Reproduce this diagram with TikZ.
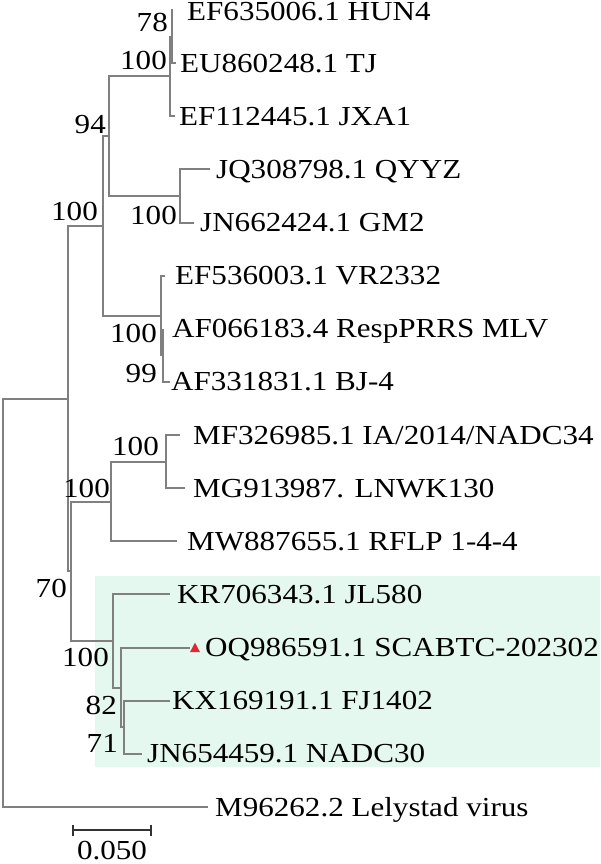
\documentclass[tikz,border=0pt]{standalone}
\usepackage{fontspec}
\setmainfont[FakeStretch=1.13]{Liberation Serif}
\usetikzlibrary{arrows.meta}
\definecolor{branchgray}{RGB}{128,128,128}
\definecolor{cladegreen}{RGB}{228,248,240}
\definecolor{markred}{RGB}{224,40,52}
\tikzset{branch/.style={draw=branchgray, line width=2pt},
    taxon/.style={anchor=west, inner sep=0pt, text height=18pt, text depth=0pt},
    boot/.style={anchor=base east, inner sep=0pt},
    scalebar/.style={draw=black!80, line width=1.8pt, {Bar[width=11pt]}-{Bar[width=11pt]}},
    }
\begin{document}
\begin{tikzpicture}[x=1pt, y=-1pt, font=\fontsize{27.5}{32}\selectfont]
\useasboundingbox (0,0) rectangle (600,864);
\fill[cladegreen] (95,576) rectangle (600,767);%NADC30-like clade
% inner nodes
\coordinate (root) at (3,602.8);
\coordinate (q100) at (68,398.6);
\coordinate (c100) at (103,225.9);
\coordinate (a94) at (109,136.2);
\coordinate (a100) at (170,76.4);
\coordinate (a78) at (172,36.6);
\coordinate (b100) at (180,196);
\coordinate (d100) at (161,315.6);
\coordinate (f99) at (163,355.4);
\coordinate (p70) at (71,571.2);
\coordinate (h100) at (111,501.5);
\coordinate (g100) at (166,461.6);
\coordinate (n100) at (113,641);
\coordinate (m82) at (121,687.5);
\coordinate (k71) at (124,727.3);
% branch tips
\coordinate (t0) at (173,10);
\coordinate (t1) at (176,63.1);
\coordinate (t2) at (175,116.3);
\coordinate (t3) at (210,169.4);
\coordinate (t4) at (194,222.5);
\coordinate (t5) at (165,275.7);
\coordinate (t6) at (163,328.8);
\coordinate (t7) at (170,381.9);
\coordinate (t8) at (180,435);
\coordinate (t9) at (185,488.2);
\coordinate (t10) at (177,541.3);
\coordinate (t11) at (170,594.4);
\coordinate (t12) at (190,647.6);
\coordinate (t13) at (170,700.7);
\coordinate (t14) at (142,753.8);
\coordinate (t15) at (208,807);
% taxa
\node[taxon] (l0) at (187,12) {EF635006.1 HUN4};
\node[taxon] (l1) at (180,63.1) {EU860248.1 TJ};
\node[taxon] (l2) at (179,116.3) {EF112445.1 JXA1};
\node[taxon] (l3) at (216,169.4) {JQ308798.1 QYYZ};
\node[taxon] (l4) at (200,222.5) {JN662424.1 GM2};
\node[taxon] (l5) at (175,275.7) {EF536003.1 VR2332};
\node[taxon] (l6) at (172,328.8) {AF066183.4 RespPRRS MLV};
\node[taxon] (l7) at (171,381.9) {AF331831.1 BJ-4};
\node[taxon] (l8) at (193,435) {MF326985.1 IA/2014/NADC34};
\node[taxon] (l9) at (193,488.2) {MG913987. LNWK130};
\node[taxon] (l10) at (187,541.3) {MW887655.1 RFLP 1-4-4};
\node[taxon] (l11) at (177,594.4) {KR706343.1 JL580};
\node[taxon] (l12) at (205,647.6) {OQ986591.1 SCABTC-202302};
\node[taxon] (l13) at (172,700.7) {KX169191.1 FJ1402};
\node[taxon] (l14) at (147,753.8) {JN654459.1 NADC30};
\node[taxon] (l15) at (215,807) {M96262.2 Lelystad virus};
% branches
\draw[branch] (a78) |- (t0) (a78) |- (t1);%HUN4, TJ
\draw[branch] (a100) |- (a78) (a100) |- (t2);%JXA1
\draw[branch] (b100) |- (t3) (b100) |- (t4);%QYYZ, GM2
\draw[branch] (a94) |- (a100) (a94) |- (b100);
\draw[branch] (f99) |- (t6) (f99) |- (t7);%RespPRRS, BJ-4
\draw[branch] (d100) |- (t5) (d100) |- (f99);%VR2332
\draw[branch] (c100) |- (a94) (c100) |- (d100);
\draw[branch] (g100) |- (t8) (g100) |- (t9);%MF326985, MG913987
\draw[branch] (h100) |- (g100) (h100) |- (t10);%MW887655
\draw[branch] (k71) |- (t13) (k71) |- (t14);%FJ1402, NADC30
\draw[branch] (m82) |- (t12) (m82) |- (k71);%SCABTC-202302
\draw[branch] (n100) |- (t11) (n100) |- (m82);%JL580
\draw[branch] (p70) |- (h100) (p70) |- (n100);
\draw[branch] (q100) |- (c100) (q100) |- (p70);
\draw[branch] (root) |- (q100) (root) |- (t15);%Lelystad
\fill[markred] (t12) ++(0,4.5) -- ++(10,0) -- ++(-5,-9.5) -- cycle;
% bootstrap values
\node[boot] (bs78) at (168,32) {78};
\node[boot] (bsA) at (167,70) {100};
\node[boot] (bs94) at (106,133) {94};
\node[boot] (bsB) at (177,224) {100};
\node[boot] (bsC) at (98,220) {100};
\node[boot] (bsD) at (157,342) {100};
\node[boot] (bs99) at (157,382) {99};
\node[boot] (bsG) at (159,455) {100};
\node[boot] (bsH) at (110,497) {100};
\node[boot] (bs70) at (67,597) {70};
\node[boot] (bsN) at (109,666) {100};
\node[boot] (bs82) at (117,714) {82};
\node[boot] (bs71) at (118,752) {71};
% scale
\coordinate (sbl) at (72,830);
\coordinate (sbr) at (152,830);
\draw[scalebar] (sbl) -- (sbr);
\node[anchor=base, inner sep=0pt] (sblabel) at (112,859) {0.050};
\end{tikzpicture}
\end{document}
